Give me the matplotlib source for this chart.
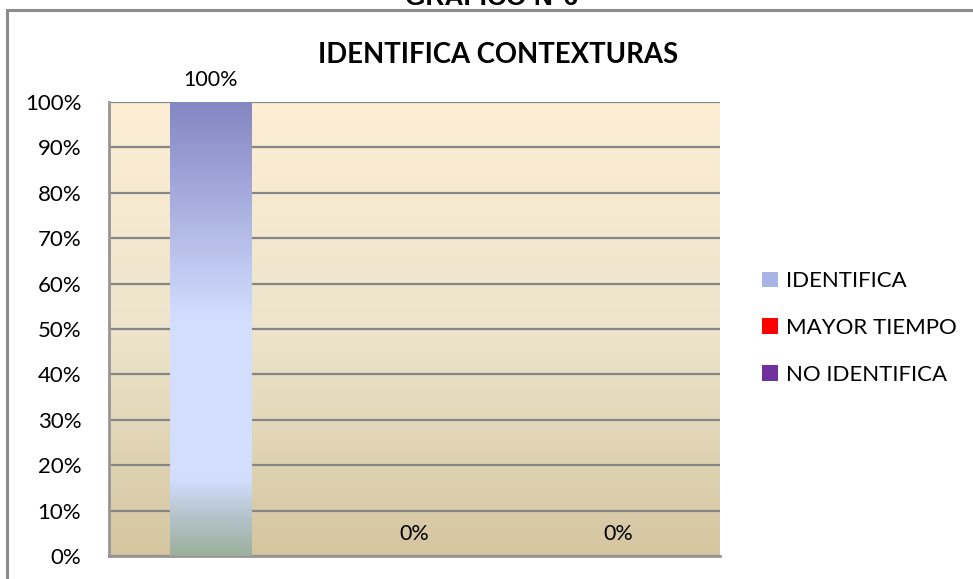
import matplotlib
matplotlib.use("Agg")
import matplotlib.pyplot as plt
import numpy as np
from matplotlib.patches import Rectangle, Patch
from matplotlib.colors import LinearSegmentedColormap
from matplotlib.ticker import FuncFormatter

categories = ["IDENTIFICA", "MAYOR TIEMPO", "NO IDENTIFICA"]
values = [100, 0, 0]
colors = ["#A9B4E6", "#FF0000", "#7030A0"]
yticks = [0, 10, 20, 30, 40, 50, 60, 70, 80, 90, 100]

plt.rcParams['font.family'] = ['Lato', 'DejaVu Sans']

fig = plt.figure(figsize=(9.73, 5.79), dpi=100)
fig.patch.set_facecolor("white")

# outer frame
frame = Rectangle((7/973, -0.1), 1.2, 1 - 10/579 + 0.1, transform=fig.transFigure,
                  fill=False, edgecolor="#8C8C8C", linewidth=2.2, zorder=0)
fig.patches.append(frame)

fig.text(0.505, 1 - 5/579, "GRAFICO N°6", ha="center", va="baseline",
         fontsize=19, fontweight="bold", family=["Liberation Sans", "DejaVu Sans"])

ax = fig.add_axes([109/973, 1 - 556/579, (720 - 109)/973, (556 - 102)/579])
ax.set_xlim(-0.5, 2.5)
ax.set_ylim(0, 100)

# background gradient
bg_cmap = LinearSegmentedColormap.from_list("bg", ["#D5C6A0", "#EDE4CB", "#FDEED4"])
grad = np.linspace(0, 1, 256).reshape(-1, 1)
ax.imshow(grad, extent=[0, 1, 0, 1], transform=ax.transAxes, cmap=bg_cmap,
          origin="lower", aspect="auto", zorder=0)

x = np.arange(len(categories))
bars = ax.bar(x, values, width=0.4, color="none", zorder=3)

bar_cmap = LinearSegmentedColormap.from_list(
    "bar", [(0.0, "#9BB09C"), (0.08, "#B3C2C8"), (0.17, "#D3DEFF"), (0.52, "#D3DEFF"),
            (1.0, "#8387C3")])
for b in bars:
    h = b.get_height()
    if h > 0:
        x0 = b.get_x()
        im = ax.imshow(grad, extent=[x0, x0 + b.get_width(), 0, h], cmap=bar_cmap,
                       origin="lower", aspect="auto", zorder=3)
        im.set_clip_path(b)

for xi, v in zip(x, values):
    ax.text(xi, v + 2.6, f"{v}%", ha="center", va="bottom", fontsize=15.5)

ax.set_yticks(yticks)
ax.yaxis.set_major_formatter(FuncFormatter(lambda v, p: f"{int(v)}%"))
ax.set_xticks([])
ax.tick_params(axis="y", length=0, labelsize=16, pad=20)
ax.grid(axis="y", color="#868686", linewidth=1.6, zorder=1)
ax.set_axisbelow(True)
for s in ["top", "right"]:
    ax.spines[s].set_visible(False)
for s in ["left", "bottom"]:
    ax.spines[s].set_color("#969696")
    ax.spines[s].set_linewidth(2)

ax.text(498/973, 1 - 55/579, "IDENTIFICA CONTEXTURAS", transform=fig.transFigure,
        ha="center", va="center", fontsize=19.8, fontweight="bold")

handles = [Patch(facecolor=c, edgecolor="none") for c in colors]
leg = fig.legend(handles, categories, loc="center left", bbox_to_anchor=(742/973, 1 - 328/579),
                 frameon=False, fontsize=16, handlelength=0.7, handleheight=0.7,
                 labelspacing=1.2, handletextpad=0.4)

fig.savefig("out.png", dpi=100, facecolor="white")
